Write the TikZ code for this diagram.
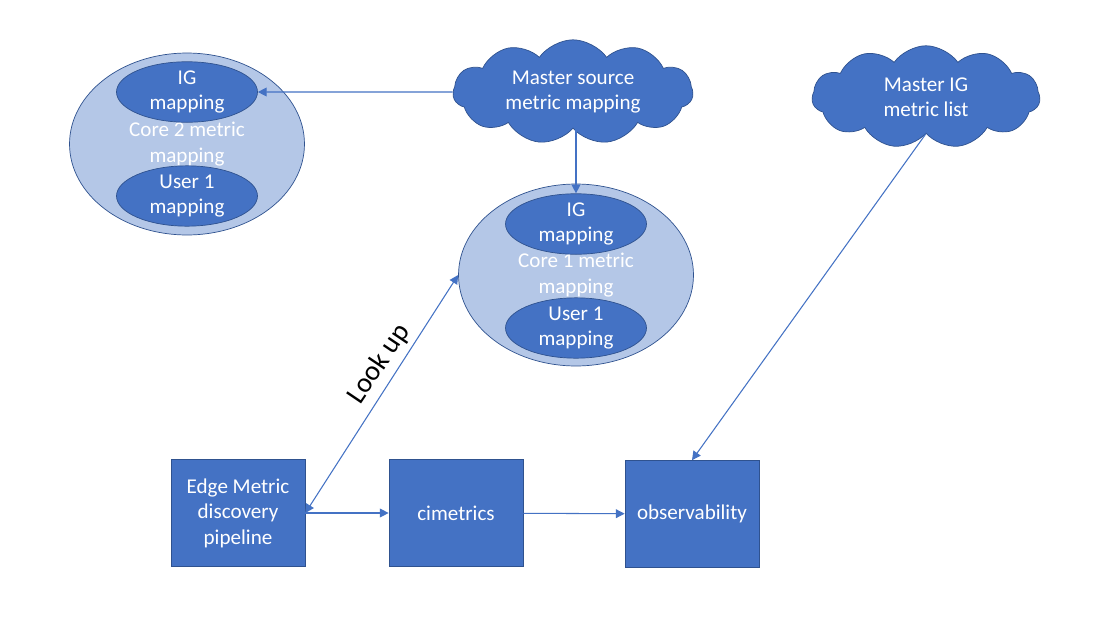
\documentclass[tikz,border=0pt]{standalone}
\usepackage{fontspec}
\setmainfont{Carlito}
\usetikzlibrary{shapes.geometric,shapes.symbols,arrows.meta}
\definecolor{officeblue}{HTML}{4472C4}
\definecolor{officeedge}{HTML}{2F528F}
\definecolor{officelight}{HTML}{B4C7E7}
\begin{document}
\begin{tikzpicture}[x=0.02cm,y=-0.02cm,
		lbl/.style={font=\fontsize{12}{14.5}\selectfont, text=white, align=center},
		core/.style={ellipse, draw=officeedge, fill=officelight, inner sep=0pt, minimum width=4.7cm, minimum height=3.64cm, lbl},
		sub/.style={ellipse, draw=officeedge, fill=officeblue, inner sep=0pt, minimum width=2.82cm, minimum height=1.06cm, lbl},
		mass/.style={cloud, cloud puffs=11, cloud puff arc=110, aspect=2.4, draw=officeedge, fill=officeblue, inner sep=0pt, lbl},
		blk/.style={rectangle, draw=officeedge, fill=officeblue, minimum width=2.68cm, minimum height=2.14cm, lbl},
		arr/.style={-{Triangle[width=5pt,length=5pt]}, officeblue, semithick}]
		\useasboundingbox [fill=white] (0,0) rectangle (1117,626);
		% mapping ellipses
		\node [core] (core2) at (187,144) {Core 2 metric\\mapping};
		\node [sub] (ig2) at (187,92) {IG\\mapping};
		\node [sub] (usr2) at (187,196) {User 1\\mapping};
		\node [core] (core1) at (576,275) {Core 1 metric\\mapping};
		\node [sub] (ig1) at (576,224) {IG\\mapping};
		\node [sub] (usr1) at (576,328) {User 1\\mapping};
		% masters
		\node [mass, minimum width=4.8cm, minimum height=1.85cm] (msrc) at (573,92) {Master source\\metric mapping};
		\node [mass, minimum width=4.56cm, minimum height=2.05cm] (mig) at (926,97) {Master IG\\metric list};
		% pipeline
		\node [blk] (edge) at (238,513) {Edge Metric\\discovery\\pipeline};
		\node [blk] (cim) at (456,513) {cimetrics};
		\node [blk] (obs) at (692,514) {observability};
		\draw [arr] (msrc.west) -- (ig2.east);
		\draw [arr] (ig1.north |- msrc.south) -- (ig1.north);
		\draw [arr] (mig.south) -- (obs.north);
		\draw [arr] (edge) -- (cim);
		\draw [arr] (cim) -- (obs);
		\draw [arr, {Triangle[width=5pt,length=5pt]}-{Triangle[width=5pt,length=5pt]}] (edge.east) -- (core1.west);
		\node [rotate=56, font=\fontsize{16}{19}\selectfont] (look) at (379,364) {Look up};
	\end{tikzpicture}
\end{document}
